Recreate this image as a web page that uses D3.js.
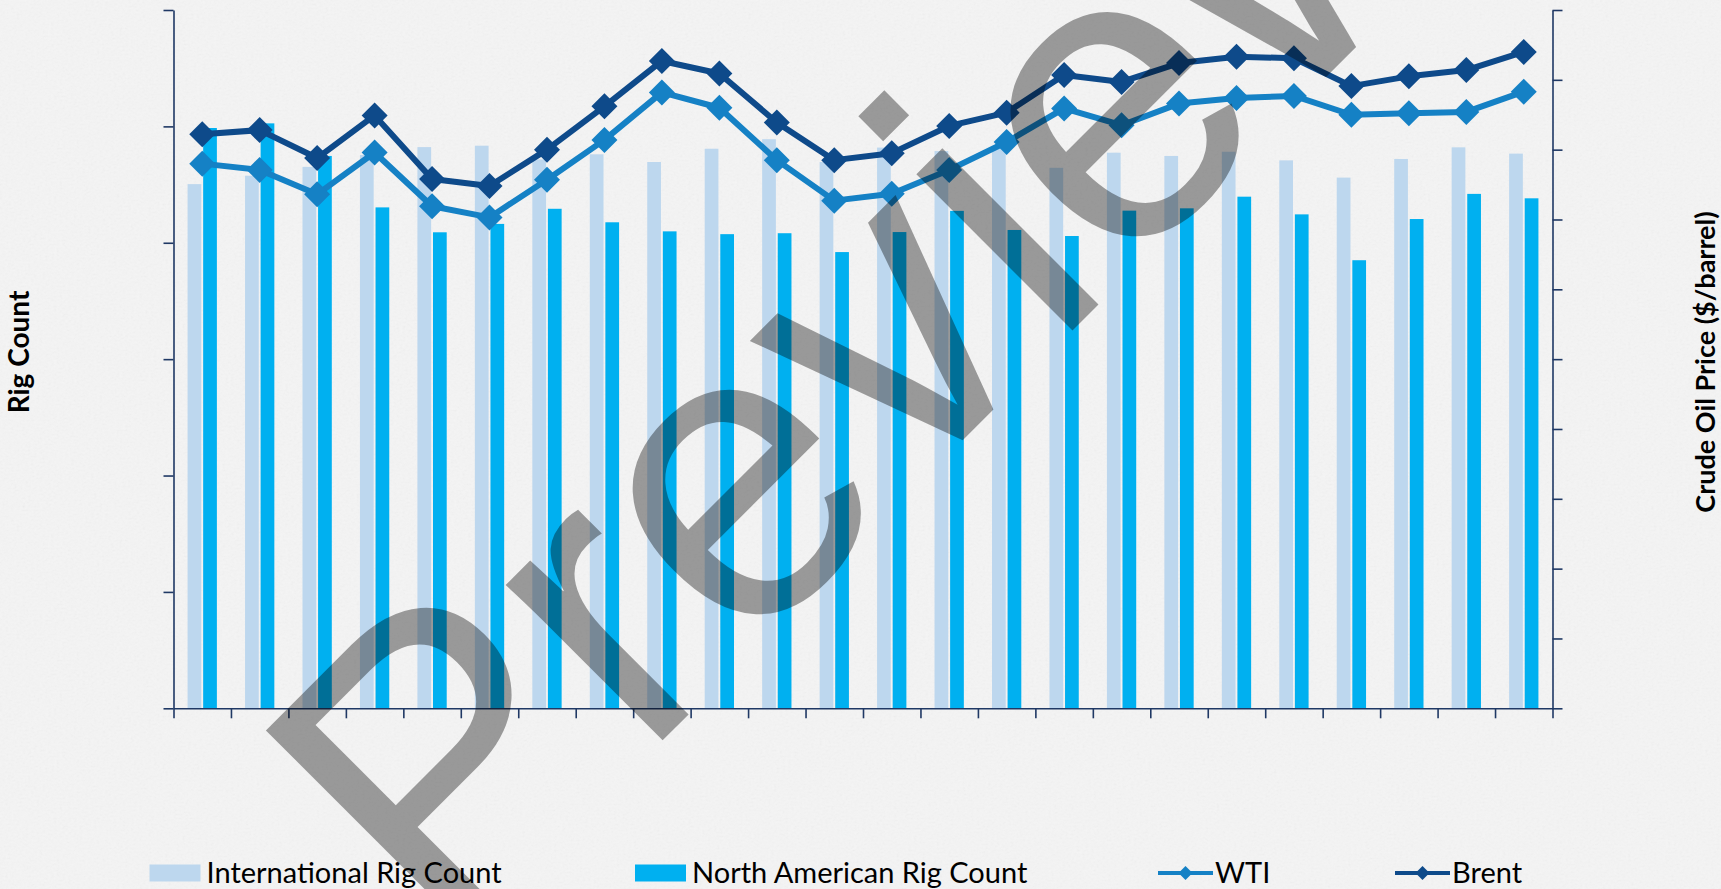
<!DOCTYPE html>
<html>
<head>
<meta charset="utf-8">
<script src="https://cdn.jsdelivr.net/npm/d3@7"></script>
<style>
html, body { margin: 0; padding: 0; background: #f3f3f3; }
svg { display: block; }
</style>
</head>
<body>
<svg id="chart" width="1721" height="889"></svg>
<script>
// monthly categories (no labels are printed on the chart)
var months = ["Jan-12", "Feb-12", "Mar-12", "Apr-12", "May-12", "Jun-12",
              "Jul-12", "Aug-12", "Sep-12", "Oct-12", "Nov-12", "Dec-12",
              "Jan-13", "Feb-13", "Mar-13", "Apr-13", "May-13", "Jun-13",
              "Jul-13", "Aug-13", "Sep-13", "Oct-13", "Nov-13", "Dec-13"];

var intlRigs = [2252, 2288, 2326, 2377, 2411, 2417, 2358, 2380, 2347, 2404, 2445, 2347,
                2409, 2394, 2406, 2322, 2387, 2373, 2391, 2354, 2280, 2360, 2410, 2383];
var naRigs   = [2493, 2513, 2373, 2152, 2045, 2081, 2146, 2088, 2049, 2037, 2041, 1960,
                2046, 2137, 2055, 2029, 2138, 2148, 2198, 2122, 1925, 2102, 2210, 2191];

var wti   = [98.0, 97.1, 93.6, 99.6, 91.9, 90.3, 95.7, 101.4, 108.2, 106.0, 98.5, 92.7,
             93.7, 97.1, 101.1, 105.9, 103.5, 106.6, 107.4, 107.7, 105.0, 105.2, 105.4, 108.3];
var brent = [102.2, 102.8, 98.8, 104.9, 95.8, 94.8, 100.0, 106.2, 112.7, 110.9, 103.9, 98.5,
             99.5, 103.4, 105.3, 110.7, 109.7, 112.4, 113.3, 113.1, 109.1, 110.5, 111.4, 114.0];

var rigTicks   = [0, 500, 1000, 1500, 2000, 2500, 3000];
var priceTicks = [20, 30, 40, 50, 60, 70, 80, 90, 100, 110, 120];

var colors = {
    intl: "#bdd7ee"
,   na: "#00b0f0"
,   wti: "#1581c5"
,   brent: "#0e4a8a"
,   axis: "#1f3864"
};

var plot = { left: 173.5, right: 1552.5, top: 10, bottom: 708.3 };

var svg = d3.select("#chart");
var x, xSub, xEdge, yRig, yPrice;

function diamond(r)
{
    return "M0," + (-r) + "L" + r + ",0L0," + r + "L" + (-r) + ",0Z";
}

function drawBackground()
{
    var defs = svg.append("defs");
    var f = defs.append("filter").attr("id", "paper")
        .attr("x", 0).attr("y", 0).attr("width", "100%").attr("height", "100%");
    f.append("feTurbulence")
        .attr("type", "fractalNoise")
        .attr("baseFrequency", "0.35 0.5")
        .attr("numOctaves", 3)
        .attr("seed", 7);
    f.append("feColorMatrix").attr("type", "saturate").attr("values", 0);

    svg.append("rect")
        .attr("width", 1721).attr("height", 889)
        .attr("fill", "#f4f4f4");
    svg.append("rect")
        .attr("width", 1721).attr("height", 889)
        .attr("filter", "url(#paper)")
        .attr("opacity", 0.07);
}

function setupScales()
{
    x = d3.scaleBand()
        .domain(months)
        .range([plot.left, plot.right])
        .paddingInner(0.49)
        .paddingOuter(0.245);

    xSub = d3.scaleBand()
        .domain(["intl", "na"])
        .range([0, x.bandwidth()])
        .paddingInner(0.12);

    xEdge = d3.scaleLinear()
        .domain([0, months.length])
        .range([plot.left, plot.right]);

    yRig = d3.scaleLinear()
        .domain([0, 3000])
        .range([plot.bottom, plot.top]);

    yPrice = d3.scaleLinear()
        .domain([20, 120])
        .range([plot.bottom, plot.top]);
}

function drawBars(values, key)
{
    svg.append("g").selectAll("rect." + key)
        .data(values)
        .enter().append("rect")
        .attr("class", key)
        .attr("x", function(d, i) { return x(months[i]) + xSub(key); })
        .attr("width", xSub.bandwidth())
        .attr("y", function(d) { return yRig(d); })
        .attr("height", function(d) { return yRig(0) - yRig(d); })
        .attr("fill", colors[key]);
}

function drawLine(values, key)
{
    var cx = function(d, i) { return x(months[i]) + x.bandwidth() / 2; };
    var line = d3.line()
        .x(cx)
        .y(function(d) { return yPrice(d); });

    var g = svg.append("g");
    g.append("path")
        .datum(values)
        .attr("d", line)
        .attr("fill", "none")
        .attr("stroke", colors[key])
        .attr("stroke-width", 6)
        .attr("stroke-linejoin", "round");

    g.selectAll("path.marker")
        .data(values)
        .enter().append("path")
        .attr("class", "marker")
        .attr("d", diamond(13))
        .attr("transform", function(d, i)
        {
            return "translate(" + cx(d, i) + "," + yPrice(d) + ")";
        })
        .attr("fill", colors[key]);
}

function styleAxis(g)
{
    g.selectAll("path, line")
        .attr("stroke", colors.axis)
        .attr("stroke-width", 1.6);
    g.selectAll("text").remove();
}

function drawAxes()
{
    svg.append("g")
        .attr("transform", "translate(" + plot.left + ",0)")
        .call(d3.axisLeft(yRig).tickValues(rigTicks).tickSize(10).tickSizeOuter(0))
        .call(styleAxis);

    svg.append("g")
        .attr("transform", "translate(" + plot.right + ",0)")
        .call(d3.axisRight(yPrice).tickValues(priceTicks).tickSize(10).tickSizeOuter(0))
        .call(styleAxis);

    svg.append("g")
        .attr("transform", "translate(0," + plot.bottom + ")")
        .call(d3.axisBottom(xEdge).tickValues(d3.range(months.length + 1)).tickSize(10).tickSizeOuter(0))
        .call(styleAxis);

    svg.append("text")
        .attr("transform", "translate(29,352) rotate(-90)")
        .attr("text-anchor", "middle")
        .style("font-family", "Lato, sans-serif")
        .style("font-weight", "bold")
        .style("font-size", "28px")
        .attr("fill", "#000")
        .text("Rig Count");

    svg.append("text")
        .attr("transform", "translate(1715,362) rotate(-90)")
        .attr("text-anchor", "middle")
        .style("font-family", "Lato, sans-serif")
        .style("font-weight", "bold")
        .style("font-size", "27px")
        .attr("fill", "#000")
        .text("Crude Oil Price ($/barrel)");
}

function drawLegend()
{
    var items = [
        { label: "International Rig Count", key: "intl", type: "bar", x: 149.5 }
    ,   { label: "North American Rig Count", key: "na", type: "bar", x: 635 }
    ,   { label: "WTI", key: "wti", type: "line", x: 1158 }
    ,   { label: "Brent", key: "brent", type: "line", x: 1395 }
    ];
    var ly = 873;

    var g = svg.append("g").selectAll("g")
        .data(items)
        .enter().append("g")
        .attr("transform", function(d) { return "translate(" + d.x + "," + ly + ")"; });

    g.filter(function(d) { return d.type == "bar"; })
        .append("rect")
        .attr("x", 0).attr("y", -8.5)
        .attr("width", 51).attr("height", 17)
        .attr("fill", function(d) { return colors[d.key]; });

    var ln = g.filter(function(d) { return d.type == "line"; });
    ln.append("line")
        .attr("x1", 0).attr("x2", 55)
        .attr("y1", 0).attr("y2", 0)
        .attr("stroke", function(d) { return colors[d.key]; })
        .attr("stroke-width", 4);
    ln.append("path")
        .attr("d", diamond(7))
        .attr("transform", "translate(27.5,0)")
        .attr("fill", function(d) { return colors[d.key]; });

    g.append("text")
        .attr("x", 57)
        .attr("y", 9.5)
        .style("font-family", "Lato, sans-serif")
        .style("font-size", "29px")
        .attr("fill", "#000")
        .text(function(d) { return d.label; });
}

function drawWatermark()
{
    svg.append("text")
        .attr("transform", "translate(445,958) rotate(-45)")
        .style("font-family", "'Liberation Sans', Arial, sans-serif")
        .style("font-size", "418px")
        .attr("fill", "#000")
        .attr("fill-opacity", 0.37)
        .text("Preview");
}

function setup()
{
    drawBackground();
    setupScales();

    drawBars(intlRigs, "intl");
    drawBars(naRigs, "na");
    drawLine(wti, "wti");
    drawLine(brent, "brent");
    drawAxes();
    drawLegend();
    drawWatermark();
}

setup();
</script>
</body>
</html>
